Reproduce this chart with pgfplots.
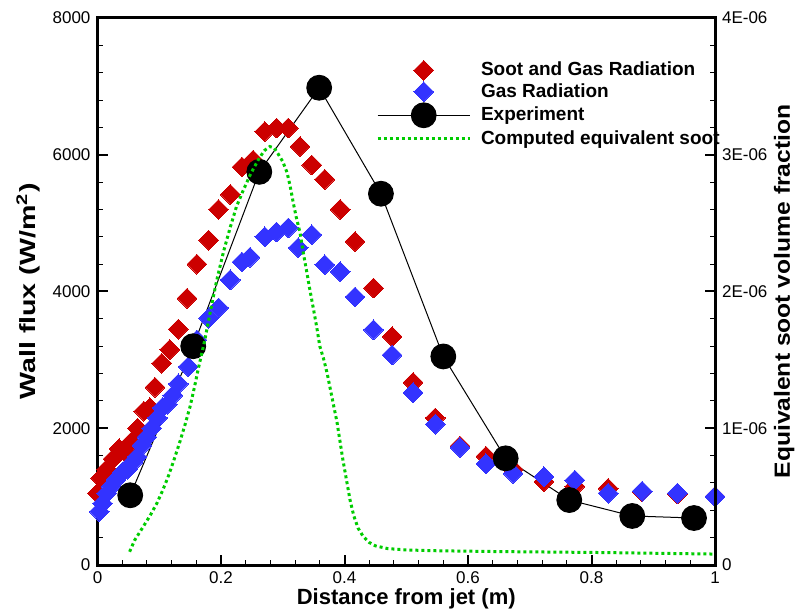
\documentclass[border=0pt]{standalone}
\usepackage{fontspec}
\setmainfont{Liberation Sans}
\usepackage{graphicx}
\usepackage{pgfplots}
\pgfplotsset{compat=1.18}

\definecolor{sootred}{RGB}{204,0,0}
\definecolor{gasblue}{RGB}{51,51,255}
\definecolor{sootgreen}{RGB}{0,204,0}

\pgfplotsset{
  box/.style={
    scale only axis, width=308.75pt, height=273.5pt,
    at={(0pt,0pt)}, anchor=south west,
    xmin=0, xmax=1,
    tick align=inside,
    major tick length=5pt, minor tick length=2.5pt,
    major tick style={line width=1pt, black},
    minor tick style={line width=0.5pt, black},
    axis line style={line width=1.5pt},
    tick label style={font=\fontsize{8.5}{10}\selectfont},
    label style={font=\fontsize{11}{13}\selectfont\bfseries},
    scaled y ticks=false,
    clip=false,
  },
}

\begin{document}
\begin{tikzpicture}
\useasboundingbox (-48.75pt,-22.5pt) rectangle (351.75pt,282.5pt);
\begin{axis}[
  box,
  ymin=0, ymax=8000,
  xtick={0,0.2,0.4,0.6,0.8,1},
  xticklabels={0,0.2,0.4,0.6,0.8,1},
  minor x tick num=4,
  ytick={0,2000,4000,6000,8000},
  yticklabels={0,2000,4000,6000,8000},
  minor y tick num=4,
  xtick pos=bottom, ytick pos=left,
  xlabel={Distance from jet (m)},
  xlabel style={at={(axis description cs:0.5,-0.061)}, anchor=center},
  ylabel={\scalebox{1.3}[1]{Wall flux (W/m\textsuperscript{2})}},
  ylabel style={at={(axis description cs:-0.1126,0.5)}, anchor=center},
  legend style={at={(axis description cs:0.441,0.931)}, anchor=north west,
    draw=none, fill=none, font=\fontsize{9.5}{11}\selectfont\bfseries,
    row sep=0.5pt, nodes={inner sep=0.9pt},
    /tikz/every odd column/.append style={column sep=4pt}},
  legend cell align=left,
  legend image code/.code={\draw[mark repeat=2,mark phase=2,#1] plot coordinates {(0pt,0pt) (23pt,0pt) (46pt,0pt)};},
]
% soot and gas radiation
\addplot[only marks, color=sootred, mark=square*, mark size=3.5pt,
  mark options={rotate=45, line width=0pt}] coordinates {
  (0.000,1050) (0.005,1270) (0.015,1400) (0.025,1550) (0.035,1700) (0.045,1650)
  (0.055,1800) (0.065,2000) (0.075,2250) (0.085,2300) (0.093,2600) (0.104,2950)
  (0.117,3150) (0.131,3450) (0.145,3900) (0.161,4400) (0.180,4750) (0.196,5200)
  (0.215,5420) (0.234,5820) (0.252,5920) (0.271,6340) (0.290,6390) (0.309,6390)
  (0.328,6120) (0.347,5850) (0.368,5640) (0.393,5200) (0.417,4730) (0.447,4050)
  (0.477,3340) (0.511,2670) (0.547,2150) (0.587,1740) (0.629,1590) (0.673,1400)
  (0.723,1220) (0.773,1150) (0.827,1120) (0.882,1070) (0.939,1040) (1.000,1000)
};
\addlegendentry{Soot and Gas Radiation}
% gas radiation
\addplot[only marks, color=gasblue, mark=square*, mark size=3.5pt,
  mark options={rotate=45, line width=0pt}] coordinates {
  (0.003,780) (0.008,900) (0.015,1050) (0.022,1150) (0.030,1250) (0.040,1350)
  (0.049,1400) (0.057,1500) (0.064,1580) (0.072,1750) (0.080,1870) (0.088,2000)
  (0.097,2150) (0.105,2300) (0.113,2350) (0.122,2480) (0.131,2650) (0.147,2900)
  (0.161,3290) (0.180,3610) (0.196,3760) (0.215,4170) (0.234,4430) (0.247,4500)
  (0.271,4800) (0.290,4870) (0.309,4930) (0.325,4640) (0.347,4830) (0.368,4390)
  (0.393,4290) (0.417,3920) (0.447,3440) (0.477,3070) (0.511,2520) (0.547,2060)
  (0.587,1720) (0.629,1480) (0.673,1340) (0.723,1290) (0.773,1240) (0.827,1050)
  (0.882,1080) (0.939,1050) (1.000,1000)
};
\addlegendentry{Gas Radiation}
% experiment
\addplot[black, line width=0.5pt, mark=*, mark size=6.2pt] coordinates {
  (0.053,1020) (0.155,3200) (0.262,5750) (0.359,6980) (0.459,5430)
  (0.560,3050) (0.661,1560) (0.764,950) (0.866,717) (0.966,687)
};
\addlegendentry{Experiment}
\addlegendimage{sootgreen, line width=1.5pt, dash pattern=on 1.5pt off 1.5pt}
\addlegendentry{Computed equivalent soot}
\end{axis}

\begin{axis}[
  box,
  ymin=0, ymax=4e-6,
  axis x line=none, axis y line*=right,
  ytick={0,1e-6,2e-6,3e-6,4e-6},
  yticklabels={0,1E-06,2E-06,3E-06,4E-06},
  minor y tick num=4,
  ylabel={\scalebox{1.12}[1]{Equivalent soot volume fraction}},
  ylabel style={at={(axis description cs:1.112,0.5)}, anchor=center, rotate=0},
]
\addplot[sootgreen, line width=1.5pt, dash pattern=on 1.5pt off 1.5pt] coordinates {
  (0.052,9.7e-8) (0.060,1.8e-7) (0.074,2.8e-7) (0.085,3.6e-7) (0.096,4.5e-7)
  (0.105,5.4e-7) (0.114,6.4e-7) (0.124,7.7e-7) (0.134,9.1e-7) (0.142,1.03e-6)
  (0.150,1.16e-6) (0.157,1.30e-6) (0.163,1.43e-6) (0.174,1.65e-6) (0.183,1.86e-6)
  (0.193,2.08e-6) (0.204,2.29e-6) (0.215,2.47e-6) (0.225,2.62e-6) (0.236,2.74e-6)
  (0.248,2.86e-6) (0.260,2.96e-6) (0.270,3.03e-6) (0.279,3.06e-6) (0.286,3.05e-6)
  (0.292,3.01e-6) (0.300,2.95e-6) (0.307,2.87e-6) (0.312,2.77e-6) (0.317,2.65e-6)
  (0.322,2.54e-6) (0.328,2.43e-6) (0.333,2.29e-6) (0.339,2.14e-6) (0.344,2.01e-6)
  (0.349,1.89e-6) (0.355,1.74e-6) (0.360,1.60e-6) (0.366,1.51e-6) (0.372,1.40e-6)
  (0.380,1.22e-6) (0.388,1.04e-6) (0.397,7.8e-7) (0.409,4.75e-7) (0.415,3.6e-7)
  (0.422,2.7e-7) (0.430,2.1e-7) (0.440,1.65e-7) (0.450,1.4e-7) (0.470,1.2e-7)
  (0.500,1.1e-7) (0.550,1.04e-7) (0.650,9.8e-8) (0.800,9.2e-8) (1.000,8.0e-8)
};
\end{axis}
\end{tikzpicture}
\end{document}
